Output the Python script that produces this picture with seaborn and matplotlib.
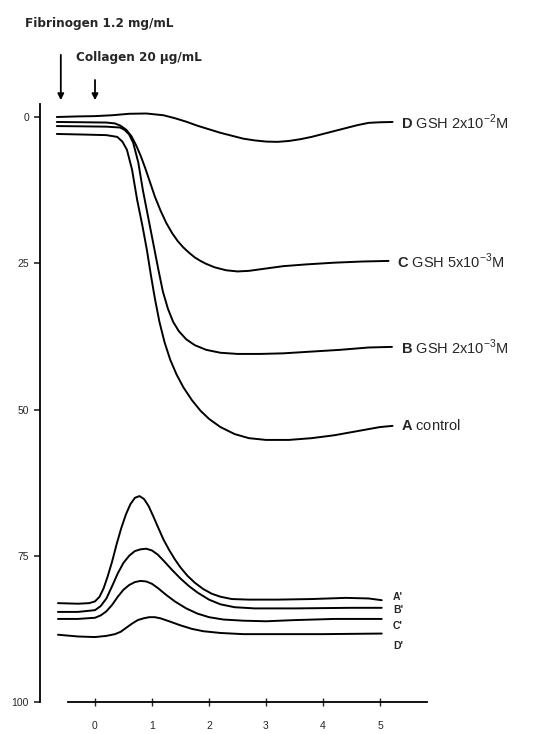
import matplotlib
matplotlib.use('Agg')
import matplotlib.pyplot as plt
import seaborn as sns

# upper traces: aggregation (time in min, % of full scale)
d_x = [-0.67, -0.3, 0.0, 0.3, 0.6, 0.9, 1.2, 1.4, 1.6, 1.8, 2.0, 2.2, 2.4, 2.6, 2.8, 3.0, 3.2, 3.4,
       3.6, 3.8, 4.0, 4.2, 4.4, 4.6, 4.8, 5.0, 5.22]
d_y = [0.0, -0.1, -0.15, -0.3, -0.55, -0.6, -0.3, 0.2, 0.8, 1.5, 2.1, 2.7, 3.2, 3.7, 4.0, 4.2, 4.25, 4.1,
       3.8, 3.4, 2.9, 2.4, 1.9, 1.4, 1.0, 0.9, 0.85]

c_x = [-0.67, -0.2, 0.2, 0.35, 0.45, 0.55, 0.64, 0.72, 0.8, 0.88, 0.96, 1.05, 1.15, 1.25, 1.35, 1.45,
       1.55, 1.65, 1.75, 1.85, 1.95, 2.1, 2.3, 2.5, 2.7, 3.0, 3.3, 3.7, 4.2, 4.7, 5.15]
c_y = [0.85, 0.9, 0.95, 1.1, 1.5, 2.2, 3.3, 4.8, 6.6, 8.7, 11.0, 13.6, 16.0, 18.1, 19.8, 21.2,
       22.3, 23.2, 24.0, 24.6, 25.1, 25.7, 26.2, 26.4, 26.3, 25.9, 25.5, 25.2, 24.9, 24.7, 24.6]

b_x = [-0.67, -0.2, 0.2, 0.44, 0.52, 0.6, 0.67, 0.76, 0.84, 0.93, 1.02, 1.11, 1.19, 1.28, 1.37, 1.47,
       1.6, 1.75, 1.95, 2.2, 2.5, 2.9, 3.3, 3.8, 4.3, 4.8, 5.21]
b_y = [1.55, 1.6, 1.65, 1.8, 2.2, 3.0, 4.4, 7.8, 12.5, 17.0, 21.5, 26.0, 29.8, 32.8, 35.0, 36.6,
       38.0, 39.0, 39.8, 40.3, 40.5, 40.5, 40.4, 40.1, 39.8, 39.4, 39.3]

a_x = [-0.67, -0.2, 0.2, 0.39, 0.48, 0.56, 0.65, 0.74, 0.83, 0.91, 0.98, 1.05, 1.13, 1.22, 1.32, 1.43,
       1.55, 1.7, 1.85, 2.0, 2.2, 2.45, 2.7, 3.0, 3.4, 3.8, 4.2, 4.6, 5.0, 5.22]
a_y = [2.9, 3.0, 3.1, 3.4, 4.2, 5.6, 9.0, 14.2, 18.5, 22.7, 27.0, 31.0, 35.0, 38.5, 41.5, 44.0,
       46.2, 48.4, 50.2, 51.6, 53.0, 54.2, 54.9, 55.2, 55.2, 54.9, 54.4, 53.7, 53.0, 52.8]

# lower traces: ATP release
a2_x = [-0.65, -0.3, -0.1, 0.0, 0.08, 0.15, 0.22, 0.3, 0.38, 0.46, 0.54, 0.62, 0.7, 0.78, 0.86, 0.94,
        1.02, 1.1, 1.2, 1.3, 1.4, 1.5, 1.62, 1.75, 1.9, 2.05, 2.2, 2.4, 2.7, 3.2, 3.8, 4.4, 4.8, 5.03]
a2_y = [83.1, 83.2, 83.1, 82.8, 82.0, 80.6, 78.6, 76.0, 73.0, 70.3, 68.0, 66.2, 65.1, 64.8, 65.3, 66.5,
        68.2, 70.0, 72.2, 74.0, 75.6, 77.0, 78.4, 79.6, 80.7, 81.5, 82.0, 82.4, 82.5, 82.5, 82.4, 82.2, 82.3, 82.6]

b2_x = [-0.65, -0.3, 0.0, 0.1, 0.2, 0.3, 0.4, 0.5, 0.6, 0.7, 0.8, 0.9, 1.0, 1.1, 1.2, 1.35, 1.5,
        1.65, 1.8, 2.0, 2.2, 2.45, 2.8, 3.5, 4.5, 5.03]
b2_y = [84.6, 84.6, 84.3, 83.6, 82.3, 80.2, 78.0, 76.2, 75.0, 74.2, 73.9, 73.8, 74.1, 74.8, 75.8, 77.4, 78.9,
        80.2, 81.3, 82.5, 83.3, 83.8, 84.0, 84.0, 83.9, 83.9]

c2_x = [-0.65, -0.3, 0.0, 0.1, 0.2, 0.3, 0.4, 0.5, 0.6, 0.7, 0.8, 0.9, 1.0, 1.1, 1.25, 1.4, 1.6,
        1.8, 2.0, 2.25, 2.6, 3.0, 3.5, 4.2, 5.03]
c2_y = [85.8, 85.8, 85.6, 85.2, 84.5, 83.4, 82.0, 80.8, 80.0, 79.5, 79.3, 79.4, 79.8, 80.5, 81.7, 82.8, 84.0,
        84.9, 85.5, 85.9, 86.1, 86.2, 86.0, 85.8, 85.8]

d2_x = [-0.65, -0.3, 0.0, 0.2, 0.35, 0.45, 0.55, 0.65, 0.75, 0.85, 0.95, 1.05, 1.15, 1.3, 1.5, 1.7,
        1.9, 2.2, 2.6, 3.2, 4.0, 5.03]
d2_y = [88.5, 88.8, 88.9, 88.7, 88.4, 88.0, 87.3, 86.6, 86.0, 85.7, 85.5, 85.5, 85.7, 86.2, 86.9, 87.5,
        87.9, 88.2, 88.4, 88.4, 88.4, 88.3]

upper_labels = [r'$\mathbf{D}$ GSH 2x10$^{-2}$M', r'$\mathbf{C}$ GSH 5x10$^{-3}$M',
                r'$\mathbf{B}$ GSH 2x10$^{-3}$M', r'$\mathbf{A}$ control']
lower_labels = ["A'", "B'", "C'", "D'"]
y_ticks = [0, 25, 50, 75, 100]
x_ticks = [0, 1, 2, 3, 4, 5]
arrow_x = [-0.6, 0.0]

sns.set_style('white')
plt.rcParams['font.family'] = ['Liberation Sans', 'DejaVu Sans']
plt.rcParams['mathtext.fontset'] = 'custom'
plt.rcParams['mathtext.rm'] = 'Liberation Sans'
plt.rcParams['mathtext.bf'] = 'Liberation Sans:bold'

fig = plt.figure(figsize=(5.42, 7.34), dpi=100)
ax = fig.add_axes([0, 0, 1, 1])
ax.set_xlim(-95 / 57, (542 - 95) / 57)
ax.set_ylim((734 - 117) / 5.85, -117 / 5.85)

upper = [(d_x, d_y), (c_x, c_y), (b_x, b_y), (a_x, a_y)]
lower = [(a2_x, a2_y), (b2_x, b2_y), (c2_x, c2_y), (d2_x, d2_y)]
for (xs, ys), lab in zip(upper, upper_labels):
    sns.lineplot(x=xs, y=ys, sort=False, estimator=None, color='black', lw=1.4, ax=ax)
    ax.text(xs[-1] + 0.15, ys[-1], lab, fontsize=10.5, va='center', ha='left')

lower_offsets = [-0.5, 0.3, 1.2, 2.2]
for (xs, ys), lab, off in zip(lower, lower_labels, lower_offsets):
    sns.lineplot(x=xs, y=ys, sort=False, estimator=None, color='black', lw=1.4, ax=ax)
    ax.text(xs[-1] + 0.2, ys[-1] + off, lab, fontsize=7.5, fontweight='bold',
            va='center', ha='left')

# addition arrows
for xa, top in zip(arrow_x, [-11.1, -6.8]):
    ax.annotate('', xy=(xa, -2.4), xytext=(xa, top),
                arrowprops=dict(arrowstyle='-|>', color='black', lw=1.3, mutation_scale=9))

fig.text(25 / 542, 1 - 24 / 734, 'Fibrinogen 1.2 mg/mL', fontsize=9.6, fontweight='bold',
         family='DejaVu Sans', stretch='condensed', va='center')
fig.text(76 / 542, 1 - 57 / 734, 'Collagen 20 µg/mL', fontsize=9.6, fontweight='bold',
         family='DejaVu Sans', stretch='condensed', va='center')

for s in ['top', 'right']:
    ax.spines[s].set_visible(False)
ax.spines['left'].set_position(('data', -0.965))
ax.spines['left'].set_bounds(-2.2, 100)
ax.spines['bottom'].set_position(('data', 100))
ax.spines['bottom'].set_bounds(-0.47, 5.82)
for s in ['left', 'bottom']:
    ax.spines[s].set_color('black')
    ax.spines[s].set_linewidth(1.3)

ax.set_yticks(y_ticks)
ax.set_xticks(x_ticks)
ax.set_yticklabels([str(v) for v in y_ticks])
ax.set_xticklabels([str(v) for v in x_ticks])
ax.tick_params(axis='y', left=True, direction='out', length=4, width=1.2, pad=4, labelsize=7.5)
ax.tick_params(axis='x', bottom=True, direction='inout', length=6, width=1.0, pad=11, labelsize=7.5)
ax.set_xlabel('')
ax.set_ylabel('')
ax.grid(False)

fig.savefig('out.png', dpi=100)
